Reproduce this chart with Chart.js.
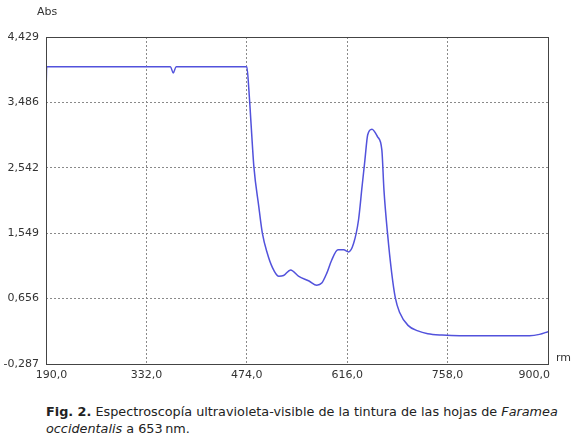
<!DOCTYPE html>
<html>
<head>
<meta charset="utf-8">
<script src="https://cdn.jsdelivr.net/npm/chart.js@4/dist/chart.umd.min.js"></script>
<style>
  body { margin: 0; background: #fff; font-family: "DejaVu Sans", Verdana, sans-serif; }
  #wrap { position: relative; width: 576px; height: 444px; }
  #box { position: absolute; left: 0; top: 0; width: 576px; height: 395px; }
  .lbl { position: absolute; font-size: 11px; color: #333; }
  #cap { position: absolute; left: 46px; top: 403px; width: 528px; font-size: 12.8px; line-height: 17px; color: #222; }
</style>
</head>
<body>
<div id="wrap">
  <div id="box"><canvas id="cht-spec"></canvas></div>
  <div class="lbl" style="left:37px; top:5px;">Abs</div>
  <div class="lbl" style="left:556px; top:351px;">rm</div>
  <div id="cap"><b>Fig. 2.</b> Espectroscopía ultravioleta-visible de la tintura de las hojas de <i>Faramea</i> <i>occidentalis</i> a 653&#8239;nm.</div>
</div>
<script>
// values (nm, absorbance)
var wavelengths = [190, 191, 250, 330, 366, 370, 374, 430, 474,
  477, 480, 484, 491, 496, 503, 510, 519, 526, 536, 547, 562, 573, 580,
  587, 594, 603, 611, 618, 625, 632, 637, 641, 645, 651, 659, 665, 668,
  673, 679, 684, 690, 702, 716, 730, 750, 775, 820, 874, 888, 900];
var absorbance = [3.56, 4.0, 4.0, 4.0, 4.0, 3.91, 4.0, 4.0, 4.0,
  3.66, 3.18, 2.56, 1.98, 1.60, 1.31, 1.11, 0.98, 0.99, 1.07, 0.98, 0.91, 0.85, 0.88,
  1.02, 1.21, 1.36, 1.36, 1.33, 1.45, 1.79, 2.27, 2.65, 3.02, 3.10, 2.99, 2.80, 2.22,
  1.60, 1.02, 0.67, 0.46, 0.27, 0.19, 0.15, 0.13, 0.12, 0.12, 0.12, 0.14, 0.18];

var yMin = -0.287, yMax = 4.429;
var yTickLabels = ['-0,287', '0,656', '1,549', '2,542', '3,486', '4,429'];
var xTicks = [190, 332, 474, 616, 758, 900];

var points = [];
wavelengths.forEach(function (w, i) { points.push({ x: w, y: absorbance[i] }); });

var frame = {
  id: 'frame',
  afterDraw: function (chart) {
    var a = chart.chartArea, ctx = chart.ctx;
    ctx.save();
    ctx.strokeStyle = '#444';
    ctx.lineWidth = 1;
    ctx.strokeRect(Math.round(a.left) + 0.5, Math.round(a.top) + 0.5, Math.round(a.right - a.left), Math.round(a.bottom - a.top));
    ctx.restore();
  }
};

var dotted = function (ctx) {
  var n = ctx.chart.scales[ctx.scale.id].ticks.length;
  return (ctx.index === 0 || ctx.index === n - 1) ? 'rgba(0,0,0,0)' : '#8a8a8a';
};

// end labels sit inside the plot edges, padded with en spaces
var xLabel = function (v, i) {
  var s = v.toFixed(1).replace('.', ',');
  if (i === 0) return '\u2002\u2002' + s;
  if (i === xTicks.length - 1) return s + '\u2002\u2002\u2002\u2002\u2002';
  return s;
};

new Chart(document.getElementById('cht-spec'), {
  type: 'line',
  data: {
    datasets: [{
      data: points,
      borderColor: '#5252dc',
      borderWidth: 1.5,
      pointRadius: 0,
      fill: false,
      cubicInterpolationMode: 'monotone'
    }]
  },
  options: {
    responsive: true,
    maintainAspectRatio: false,
    animation: false,
    layout: { padding: { left: 0, top: 37, right: 28, bottom: 0 } },
    plugins: { legend: { display: false }, tooltip: { enabled: false } },
    scales: {
      x: {
        type: 'linear', min: 190, max: 900,
        afterBuildTicks: function (s) { s.ticks = xTicks.map(function (v) { return { value: v }; }); },
        afterFit: function (s) { s.height = 31; s.paddingLeft = 0; s.paddingRight = 0; },
        ticks: {
          maxRotation: 0, padding: 5, color: '#333',
          font: { family: 'DejaVu Sans', size: 11 },
          callback: xLabel
        },
        grid: { color: dotted, lineWidth: 1, drawTicks: false },
        border: { display: false, dash: [2, 2] }
      },
      y: {
        min: yMin, max: yMax,
        afterBuildTicks: function (s) {
          s.ticks = yTickLabels.map(function (l, i) { return { value: yMin + i * (yMax - yMin) / 5 }; });
        },
        afterFit: function (s) { s.width = 46; s.paddingTop = 0; s.paddingBottom = 0; },
        ticks: {
          padding: 7, color: '#333',
          font: { family: 'DejaVu Sans', size: 11 },
          callback: function (v, i) { return yTickLabels[i]; }
        },
        grid: { color: dotted, lineWidth: 1, drawTicks: false },
        border: { display: false, dash: [2, 2] }
      }
    }
  },
  plugins: [frame]
});
</script>
</body>
</html>
